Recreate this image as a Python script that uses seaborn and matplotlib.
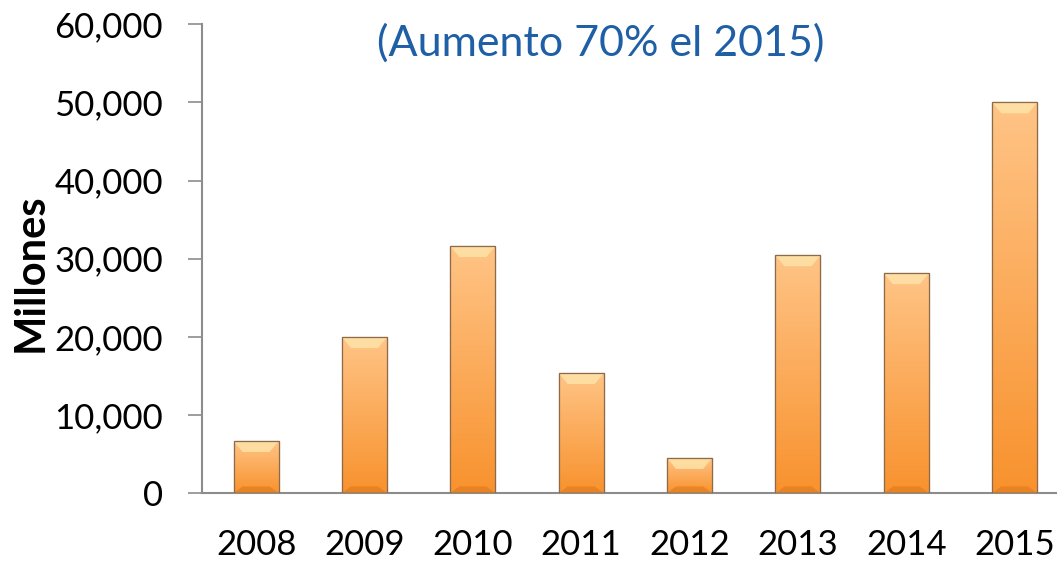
import numpy as np
import pandas as pd
import matplotlib
matplotlib.use("Agg")
import matplotlib.pyplot as plt
import seaborn as sns
from matplotlib.colors import LinearSegmentedColormap
from matplotlib.patches import Polygon
from matplotlib.ticker import FuncFormatter

years = ["2008", "2009", "2010", "2011", "2012", "2013", "2014", "2015"]
millones = [6650, 19950, 31600, 15350, 4480, 30430, 28130, 50000]
title_text = "(Aumento 70% el 2015)"

sns.set_theme(style="white")
plt.rcParams["font.family"] = ["Lato", "DejaVu Sans"]

df = pd.DataFrame({"year": years, "value": millones})

fig = plt.figure(figsize=(10.57, 5.62), dpi=100)
ax = fig.add_axes([0.191, 0.1228, 0.809, 0.834])

sns.barplot(data=df, x="year", y="value", color="#F9A04A", width=0.415,
            edgecolor="#9C6B3C", linewidth=0.8, ax=ax, zorder=2)

# gradient fill + bevel on each bar
cmap = LinearSegmentedColormap.from_list("orng", ["#F8922E", "#FFC486"])
grad = np.linspace(0, 1, 256).reshape(-1, 1)
for bar in ax.patches:
    x0, y0 = bar.get_x(), bar.get_y()
    w, h = bar.get_width(), bar.get_height()
    im = ax.imshow(grad, cmap=cmap, aspect="auto", origin="lower",
                   extent=[x0, x0 + w, y0, y0 + h], zorder=2.5)
    im.set_clip_path(bar)
    bev_x = w * 0.2
    bev_y = 1400
    top = Polygon([[x0, y0 + h], [x0 + w, y0 + h], [x0 + w - bev_x, y0 + h - bev_y],
                   [x0 + bev_x, y0 + h - bev_y]], closed=True,
                  facecolor="#FFE3A8", edgecolor="none", alpha=0.85, zorder=2.6)
    ax.add_patch(top)
    bot = Polygon([[x0, y0], [x0 + w, y0], [x0 + w - bev_x, y0 + bev_y * 0.6],
                   [x0 + bev_x, y0 + bev_y * 0.6]], closed=True,
                  facecolor="#E07818", edgecolor="none", alpha=0.6, zorder=2.6)
    ax.add_patch(bot)
    outline = plt.Rectangle((x0, y0), w, h, fill=False, edgecolor="#8E6A48",
                            linewidth=0.9, zorder=2.7)
    ax.add_patch(outline)

ax.set_ylim(0, 60000)
ax.set_xlim(-0.5, 7.39)
ax.set_yticks(range(0, 60001, 10000))
ax.yaxis.set_major_formatter(FuncFormatter(lambda v, p: f"{int(v):,}"))

ax.set_xlabel("")
ax.set_ylabel("Millones", fontsize=30, fontweight="bold", color="black")
ax.yaxis.set_label_coords(-0.178, 0.47)
ax.tick_params(axis="y", labelsize=25, length=10, width=1.2, color="#8C8C8C",
               direction="out", left=True, pad=18, labelcolor="black")
ax.tick_params(axis="x", labelsize=25, length=0, pad=26, labelcolor="black")

for s in ["top", "right"]:
    ax.spines[s].set_visible(False)
for s in ["left", "bottom"]:
    ax.spines[s].set_color("#8C8C8C")
    ax.spines[s].set_linewidth(1.5)

ax.text(0.466, 0.96, title_text, transform=ax.transAxes, ha="center", va="center",
        fontsize=31, color="#1F5FA5")

fig.savefig("out.png", dpi=100)
